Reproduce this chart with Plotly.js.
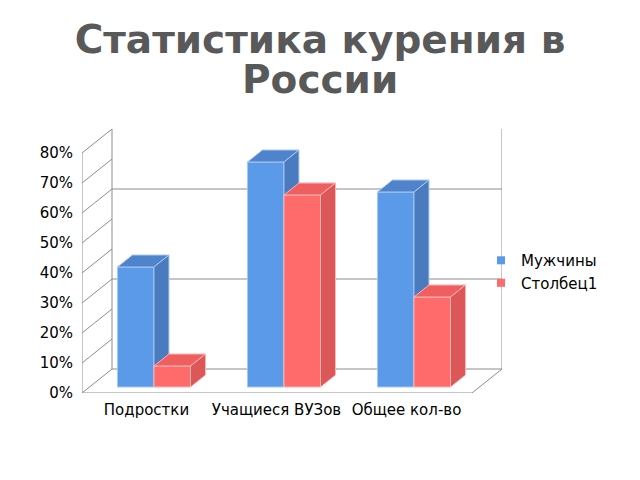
<!DOCTYPE html>
<html>
<head>
<meta charset="utf-8">
<script src="https://cdn.plot.ly/plotly-3.0.1.min.js"></script>
<style>
  html, body { margin: 0; padding: 0; background: #fff; }
  #chart { width: 640px; height: 480px; }
</style>
</head>
<body>
<div id="chart"></div>
<script>
/* Статистика курения в России -- 3D-style clustered bars */

const categories = ['Подростки', 'Учащиеся ВУЗов', 'Общее кол-во'];
const seriesNames = ['Мужчины', 'Столбец1'];
const menValues = [40, 75, 65];
const col1Values = [7, 64, 30];
const yTicks = [0, 10, 20, 30, 40, 50, 60, 70, 80];
const backGrid = [0, 30, 60];

// ---- projection constants (x in category units, y in % units) ----
const DX = 30 / 130;     // depth shift along x for full depth
const DY = 8;            // depth shift along y for full depth
const D0 = 0.25;         // bar front face depth
const D1 = 0.75;         // bar back face depth
const BAR_W = 0.281;
const X_LEFT = -0.496;
const X_RIGHT = 2.504;
const Y_TOP = 80;

const COLORS = {
  blue: { front: '#5b9ae8', top: '#4f83cc', side: '#4a7bbf', edge: '#a9c6ee' },
  red:  { front: '#ff6b6b', top: '#ef5f5f', side: '#dc5858', edge: '#ffb3b3' },
  wall: '#8c8c8c',
};

// ---- face polygons built from values ----
function facePolys(values, side) {
  const front = { x: [], y: [] }, top = { x: [], y: [] }, right = { x: [], y: [] };
  const sx = DX * (D1 - D0), sy = DY * (D1 - D0);
  values.forEach((v, i) => {
    const c  = i + D0 * DX;
    const x0 = side === 0 ? c - BAR_W : c;
    const x1 = x0 + BAR_W;
    const b  = D0 * DY;
    const t  = b + v;
    front.x.push(x0, x1, x1, x0, x0, null);
    front.y.push(b, b, t, t, b, null);
    top.x.push(x0, x1, x1 + sx, x0 + sx, x0, null);
    top.y.push(t, t, t + sy, t + sy, t, null);
    right.x.push(x1, x1 + sx, x1 + sx, x1, x1, null);
    right.y.push(b, b + sy, t + sy, t, b, null);
  });
  return { front, top, right };
}

function faceTrace(poly, fill, edge) {
  return {
    type: 'scatter', mode: 'lines', x: poly.x, y: poly.y,
    fill: 'toself', fillcolor: fill,
    line: { color: edge, width: 1 },
    hoverinfo: 'skip', showlegend: false,
  };
}

const traces = [];
[[menValues, COLORS.blue], [col1Values, COLORS.red]].forEach(([vals, col], s) => {
  const p = facePolys(vals, s);
  traces.push(faceTrace(p.front, col.front, col.edge));
  traces.push(faceTrace(p.top, col.top, col.edge));
  traces.push(faceTrace(p.right, col.side, col.edge));
});

// legend entries
seriesNames.forEach((name, s) => {
  traces.push({
    type: 'scatter', mode: 'markers', x: [null], y: [null], name,
    marker: { symbol: 'square', size: 8, color: s === 0 ? COLORS.blue.front : COLORS.red.front },
    hoverinfo: 'skip',
  });
});

// ---- walls and floor ----
const shapes = [];
const ln = (x0, y0, x1, y1) => shapes.push({
  type: 'line', xref: 'x', yref: 'y', x0, y0, x1, y1, layer: 'below',
  line: { color: COLORS.wall, width: 1 },
});
ln(X_LEFT, 0, X_LEFT, Y_TOP);
ln(X_LEFT + DX, DY, X_LEFT + DX, Y_TOP + DY);
ln(X_RIGHT + DX, DY, X_RIGHT + DX, Y_TOP + DY);
ln(X_LEFT, 0, X_RIGHT, 0);
ln(X_RIGHT, 0, X_RIGHT + DX, DY);
yTicks.forEach(v => ln(X_LEFT, v, X_LEFT + DX, v + DY));
backGrid.forEach(v => ln(X_LEFT + DX, v + DY, X_RIGHT + DX, v + DY));

const titleFont = { family: 'DejaVu Sans', size: 39, color: '#595959', weight: 'bold' };

const layout = {
  width: 640, height: 480,
  paper_bgcolor: '#fff', plot_bgcolor: 'rgba(0,0,0,0)',
  margin: { l: 82, r: 138, t: 129, b: 87 },
  font: { family: 'DejaVu Sans', size: 15, color: '#000' },
  title: {
    text: 'Статистика курения в',
    font: titleFont,
    x: 0.5, xanchor: 'center', xref: 'container',
    y: 0.946, yanchor: 'top', yref: 'container',
  },
  annotations: [{
    text: 'России', xref: 'paper', yref: 'paper', x: (320 - 82) / 420, y: (393 - 55) / 264,
    xanchor: 'center', yanchor: 'top', showarrow: false,
    font: titleFont,
  }],
  xaxis: {
    range: [X_LEFT, X_RIGHT + DX], tickvals: [0, 1, 2], ticktext: categories,
    showgrid: false, zeroline: false, showline: false, ticks: '',
    ticklabelstandoff: 6, fixedrange: true,
  },
  yaxis: {
    range: [0, Y_TOP + DY], tickvals: yTicks, ticktext: yTicks.map(v => v + '%'),
    showgrid: false, zeroline: false, showline: false, ticks: '',
    ticklabelstandoff: 8, fixedrange: true,
  },
  showlegend: true,
  legend: {
    x: 0.95, xanchor: 'left', y: 0.46, yanchor: 'middle',
    font: { family: 'DejaVu Sans', size: 15, color: '#000' },
    bgcolor: 'rgba(0,0,0,0)', itemclick: false,
  },
  shapes,
};

Plotly.newPlot('chart', traces, layout, { staticPlot: true, displayModeBar: false });
</script>
</body>
</html>
